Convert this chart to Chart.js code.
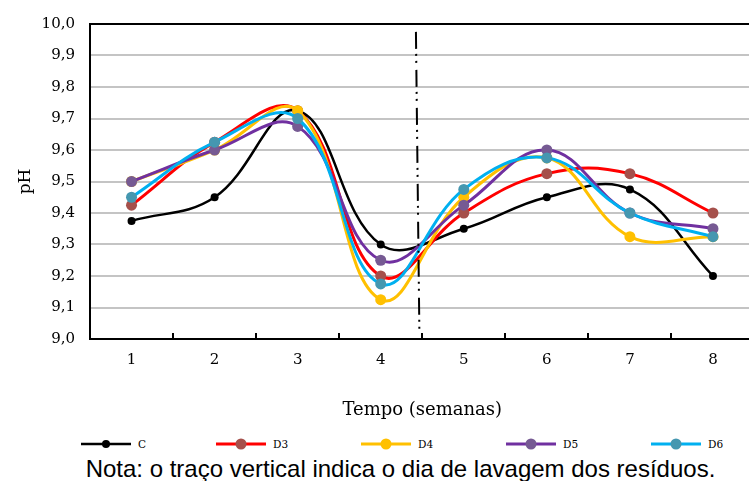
<!DOCTYPE html>
<html>
<head>
<meta charset="utf-8">
<script src="https://cdn.jsdelivr.net/npm/chart.js@4.4.1/dist/chart.umd.min.js"></script>
<style>
  html, body { margin:0; padding:0; width:749px; height:481px; overflow:hidden; background:#fff; }
  #wrap { position:absolute; left:0; top:0; width:760px; height:425px; }
  #legend { position:absolute; left:0; top:435px; width:749px; height:18px; font-family:"DejaVu Serif", serif; font-size:10.5px; color:#000; }
  .item { position:absolute; top:0; height:18px; display:flex; align-items:center; }
  .item canvas { display:block; }
  .item span { margin-left:6px; }
  #note { position:absolute; left:0; top:455px; width:801px; text-align:center; font-family:"Liberation Sans", Arial, sans-serif; font-size:24px; color:#000; line-height:28px; white-space:nowrap; }
</style>
</head>
<body>
<div id="wrap"><canvas id="c"></canvas></div>
<div id="legend"></div>
<div id="note">Nota: o traço vertical indica o dia de lavagem dos resíduos.</div>
<script>
// ---- data ----
const categories = ["1","2","3","4","5","6","7","8"];
const seriesNames = ["C","D3","D4","D5","D6"];
const C  = [9.375, 9.45, 9.725, 9.30, 9.35, 9.45, 9.475, 9.20];
const D3 = [9.425, 9.625, 9.725, 9.20, 9.40, 9.525, 9.525, 9.40];
const D4 = [9.50, 9.60, 9.725, 9.125, 9.45, 9.575, 9.325, 9.325];
const D5 = [9.50, 9.60, 9.675, 9.25, 9.425, 9.60, 9.40, 9.35];
const D6 = [9.45, 9.625, 9.70, 9.175, 9.475, 9.575, 9.40, 9.325];
const yMin = 9.0, yMax = 10.0, yStep = 0.1;
const washAfterWeek = 4; // vertical line between week 4 and 5

// ---- styles ----
const lineColors  = ["#000000", "#FF0000", "#FFC000", "#7030A0", "#00B0F0"];
const pointColors = ["#000000", "#A5504B", "#FFC000", "#765A93", "#4597B0"];
const pointSizes  = [4, 5.5, 5.5, 5.5, 5.5];
const lineWidths  = [2.5, 3, 3, 3, 3];
const allValues = [C, D3, D4, D5, D6];

const datasets = seriesNames.map((n, i) => ({
  label: n,
  data: allValues[i],
  borderColor: lineColors[i],
  backgroundColor: pointColors[i],
  pointBackgroundColor: pointColors[i],
  pointBorderColor: pointColors[i],
  pointBorderWidth: 0,
  pointRadius: pointSizes[i],
  pointHoverRadius: pointSizes[i],
  borderWidth: lineWidths[i],
  tension: 0.4,
  fill: false,
  order: seriesNames.length - i
}));

const extras = {
  id: 'extras',
  afterDatasetsDraw(chart) {
    const ctx = chart.ctx;
    const xs = chart.scales.x, ys = chart.scales.y;
    // x tick marks at category boundaries (inside, upward)
    ctx.save();
    ctx.strokeStyle = '#000';
    ctx.lineWidth = 2;
    const yb = ys.getPixelForValue(yMin);
    for (let k = 1; k < categories.length; k++) {
      const x = Math.round(xs.getPixelForValue(k - 0.5));
      ctx.beginPath();
      ctx.moveTo(x, yb);
      ctx.lineTo(x, yb - 6);
      ctx.stroke();
    }
    // dash-dot-dot vertical line
    const xc = washAfterWeek - 0.5;
    const xt = xs.getPixelForValue(xc - 0.076), xbt = xs.getPixelForValue(xc - 0.034);
    const yt = ys.getPixelForValue(9.975), ybb = ys.getPixelForValue(9.01);
    ctx.setLineDash([17, 5, 2, 5, 2, 7]);
    ctx.lineWidth = 2;
    ctx.beginPath();
    ctx.moveTo(xt, yt);
    ctx.lineTo(xbt, ybb);
    ctx.stroke();
    ctx.restore();
  }
};

new Chart(document.getElementById('c'), {
  type: 'line',
  data: { labels: categories, datasets },
  plugins: [extras],
  options: {
    responsive: true,
    maintainAspectRatio: false,
    animation: false,
    layout: { padding: { top: 20, right: 3, left: 0, bottom: 0 } },
    plugins: { legend: { display: false }, tooltip: { enabled: false }, title: { display: false } },
    scales: {
      x: {
        offset: true,
        grid: { display: false, drawTicks: false },
        border: { display: true, color: '#000', width: 2 },
        ticks: { color: '#000', padding: 12, font: { family: 'DejaVu Serif', size: 15 } },
        title: { display: true, text: 'Tempo (semanas)', color: '#000', font: { family: 'DejaVu Serif', size: 18 }, padding: { top: 0, bottom: 4 } },
        afterFit(s) { s.height = 86; }
      },
      y: {
        min: yMin, max: yMax,
        grid: {
          drawTicks: false,
          color: (c) => (c.tick && Math.abs(c.tick.value - yMax) < 1e-6) ? '#000' : '#C4C4C4',
          lineWidth: 2
        },
        border: { display: true, color: '#000', width: 2 },
        ticks: {
          stepSize: yStep, color: '#000', padding: 15,
          font: { family: 'DejaVu Serif', size: 15 },
          callback: (v) => Number(v).toFixed(1).replace('.', ',')
        },
        title: { display: true, text: 'pH', color: '#000', font: { family: 'DejaVu Serif', size: 17 }, padding: { top: 15, bottom: 0 } },
        afterFit(s) { s.width = 90; }
      }
    }
  }
});

// ---- legend (HTML) ----
const legendLeft = [80, 215, 360, 505, 650];
const legend = document.getElementById('legend');
seriesNames.forEach((n, i) => {
  const item = document.createElement('div');
  item.className = 'item';
  item.style.left = legendLeft[i] + 'px';
  const cv = document.createElement('canvas');
  cv.width = 52; cv.height = 18;
  const g = cv.getContext('2d');
  g.strokeStyle = lineColors[i]; g.lineWidth = lineWidths[i];
  g.beginPath(); g.moveTo(1, 9); g.lineTo(51, 9); g.stroke();
  g.fillStyle = pointColors[i];
  g.beginPath(); g.arc(26, 9, pointSizes[i], 0, Math.PI * 2); g.fill();
  const sp = document.createElement('span');
  sp.textContent = n;
  item.appendChild(cv); item.appendChild(sp);
  legend.appendChild(item);
});
</script>
</body>
</html>
